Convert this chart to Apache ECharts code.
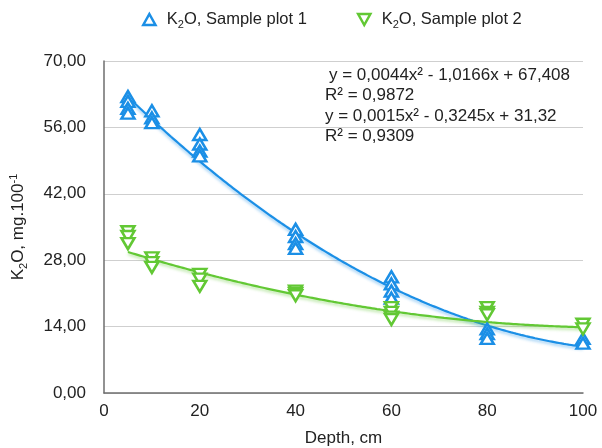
<!DOCTYPE html>
<html><head><meta charset="utf-8">
<script src="https://cdn.jsdelivr.net/npm/echarts@6/dist/echarts.min.js"></script>
<style>html,body{margin:0;padding:0;background:#fff}#c{width:602px;height:448px}</style>
</head><body><div id="c"></div>
<script>
// Depth positions and values
const plot1X = [5,5,5,5, 10,10,10, 20,20,20,20, 40,40,40,40, 60,60,60,60, 80,80,80, 100,100];
const plot1Y = [62.5,61.5,60,59, 59.5,58,57, 54.5,52.5,51,50, 34.5,33,31.5,30.5, 24.5,23,21.5,20, 13.5,12.5,11.5, 11.5,10.5];
const plot2X = [5,5,5, 10,10,10, 20,20,20, 40,40,40, 60,60,60,60, 80,80,80, 100,100];
const plot2Y = [34,33,31.5, 28.5,27.5,26.5, 25,24,22.5, 21.5,21,20.5, 18,17,16,15.5, 18,17,16.5, 14.5,13.5];
// Trendline coefficients as printed on the chart [a, b, c]: y = a x^2 + b x + c
const trend1 = [0.0044, -1.0166, 67.408];
const trend2 = [0.0015, -0.3245, 31.32];
const trendRange = [5, 100];
const yTicks = [0, 14, 28, 42, 56, 70];
const xTicks = [0, 20, 40, 60, 80, 100];
const eqLines = ['y = 0,0044x² - 1,0166x + 67,408', 'R² = 0,9872', 'y = 0,0015x² - 0,3245x + 31,32', 'R² = 0,9309'];

const BLUE = '#1b8fe6', GREEN = '#62c834';
const FONT = 'Liberation Sans, Arial, Helvetica, sans-serif';
const FS = 17;
const upTri = 'path://M5,0 L10,9 L0,9 Z';
const downTri = 'path://M0,0 L10,0 L5,9 Z';

function pts(xs, ys){ return xs.map((x,i)=>[x, ys[i]]); }
function curve(c){
  const out = [];
  for (let x = trendRange[0]; x <= trendRange[1]; x += 1) out.push([x, c[0]*x*x + c[1]*x + c[2]]);
  return out;
}
const rich = {
  a: {fontSize: FS, fontFamily: FONT, color: '#222', lineHeight: 21},
  s: {fontSize: 11, fontFamily: FONT, color: '#222', lineHeight: 12, verticalAlign: 'bottom'},
  p: {fontSize: 11, fontFamily: FONT, color: '#222', lineHeight: 12, verticalAlign: 'top'}
};
const legRich = {
  a: {fontSize: 16.5, fontFamily: FONT, color: '#222', lineHeight: 21},
  s: {fontSize: 11, fontFamily: FONT, color: '#222', lineHeight: 12, verticalAlign: 'bottom'}
};
const chart = echarts.init(document.getElementById('c'));
chart.setOption({
  animation: false,
  textStyle: {fontFamily: FONT},
  grid: {left: 104, right: 19, top: 61, bottom: 55, containLabel: false, outerBoundsMode: 'none'},
  legend: {
    top: 6, left: 137, itemGap: 50, itemWidth: 13, itemHeight: 11,
    data: [
      {name: 'K2O, Sample plot 1', icon: upTri, itemStyle: {color: '#fff', borderColor: BLUE, borderWidth: 2.5}},
      {name: 'K2O, Sample plot 2', icon: downTri, itemStyle: {color: '#fff', borderColor: GREEN, borderWidth: 2.5}}
    ],
    formatter: n => n === 'K2O, Sample plot 1' ? '{a|K}{s|2}{a|O, Sample plot 1}' : '{a|K}{s|2}{a|O, Sample plot 2}',
    textStyle: {rich: legRich, padding: [0,0,0,6]}
  },
  xAxis: {
    type: 'value', min: xTicks[0], max: xTicks[xTicks.length-1], interval: 20,
    name: 'Depth, cm', nameLocation: 'middle', nameGap: 37,
    nameTextStyle: {fontSize: FS, color: '#222', fontFamily: FONT},
    axisLine: {lineStyle: {color: '#6e6e6e', width: 1.5}},
    axisTick: {show: false},
    axisLabel: {fontSize: FS, color: '#222', margin: 10, fontFamily: FONT},
    splitLine: {show: false}
  },
  yAxis: {
    type: 'value', min: yTicks[0], max: yTicks[yTicks.length-1], interval: 14,
    name: '{a|K}{s|2}{a|O, mg.100}{p|-1}', nameLocation: 'middle', nameGap: 75, nameRotate: 90,
    nameTextStyle: {rich: rich},
    axisLine: {show: true, lineStyle: {color: '#6e6e6e', width: 1.5}},
    axisTick: {show: false},
    axisLabel: {fontSize: FS, color: '#222', margin: 18, fontFamily: FONT,
      formatter: v => v.toFixed(2).replace('.', ',')},
    splitLine: {show: true, lineStyle: {color: '#cfcfcf', width: 1}}
  },
  series: [
    {name: 'trend1', type: 'line', data: curve(trend1), showSymbol: false, smooth: true, z: 3,
      lineStyle: {color: BLUE, width: 2.2, shadowColor: 'rgba(27,143,230,0.45)', shadowBlur: 3, shadowOffsetY: 2}},
    {name: 'trend2', type: 'line', data: curve(trend2), showSymbol: false, smooth: true, z: 3,
      lineStyle: {color: GREEN, width: 2.2, shadowColor: 'rgba(98,200,52,0.45)', shadowBlur: 3, shadowOffsetY: 2}},
    {name: 'K2O, Sample plot 1', type: 'scatter', data: pts(plot1X, plot1Y), symbol: upTri, symbolSize: [13, 11], z: 4,
      itemStyle: {color: '#fff', borderColor: BLUE, borderWidth: 2.5, opacity: 1}},
    {name: 'K2O, Sample plot 2', type: 'scatter', data: pts(plot2X, plot2Y), symbol: downTri, symbolSize: [13, 11], z: 4,
      itemStyle: {color: '#fff', borderColor: GREEN, borderWidth: 2.5, opacity: 1}}
  ],
  graphic: eqLines.map((t, i) => ({
    type: 'text', left: i === 0 ? 329 : 325, top: 67 + i * 20.3, z: 10,
    style: {text: t, fontSize: FS, fontFamily: FONT, fill: '#222'}
  }))
});
</script></body></html>
